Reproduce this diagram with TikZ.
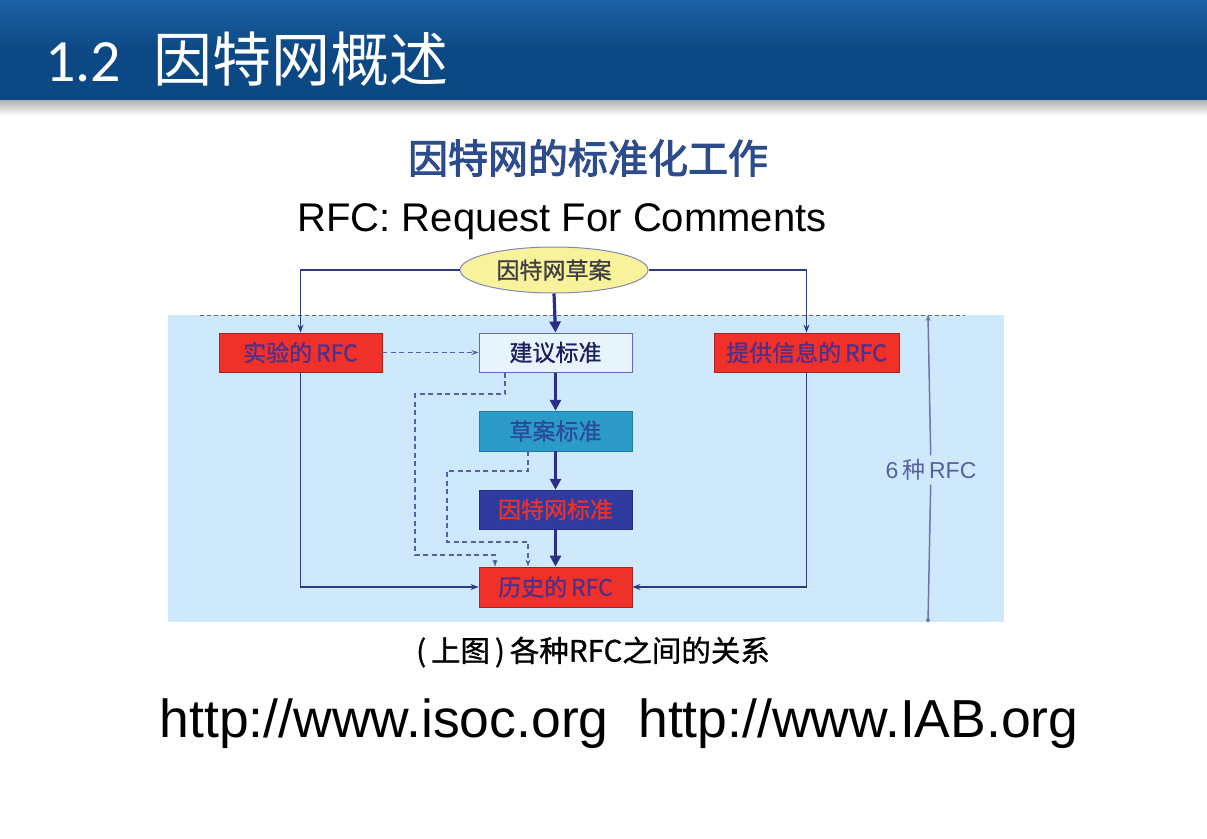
\documentclass[tikz,border=0pt]{standalone}
\usepackage{fontspec}
\setmainfont{Liberation Sans}
\newfontfamily\cjk{Noto Sans CJK SC}[AutoFakeBold=2.5]
\newfontfamily\cjkmed{Noto Sans CJK SC}[AutoFakeBold=1]
\newfontfamily\cjkplain{Noto Sans CJK SC}
\newfontfamily\titlefont{Carlito}
\usetikzlibrary{shapes.geometric,arrows.meta}
\definecolor{headblue}{HTML}{0C4884}
\definecolor{headtop}{HTML}{1E62A6}
\definecolor{subblue}{HTML}{2D4C8C}
\definecolor{paneblue}{HTML}{CDE9FB}
\definecolor{rfcred}{HTML}{EF3129}
\definecolor{boxtext}{HTML}{4F2F8C}
\definecolor{navy}{HTML}{2A2E86}
\definecolor{thinline}{HTML}{2E3A84}
\definecolor{teal}{HTML}{2B9BCA}
\definecolor{tealtext}{HTML}{2C4A9A}
\definecolor{stdblue}{HTML}{2F3B9E}
\definecolor{palebox}{HTML}{E7F4FC}
\definecolor{eyellow}{HTML}{F8F29C}
\tikzset{
  rfcbox/.style={rectangle, minimum width=#1, minimum height=39pt, inner sep=0pt,
    font=\cjkmed\bfseries\fontsize{23}{25}\selectfont, text=boxtext},
  redbox/.style={rfcbox=#1, fill=rfcred, draw=rfcred!70!black, line width=0.8pt},
  flow/.style={draw=navy, line width=3.2pt, -{Triangle[length=11pt,width=11pt]}},
  link/.style={draw=thinline, line width=1.8pt, -{Stealth[length=8pt,width=6pt]}},
  feed/.style={draw=thinline!80, line width=1.2pt, dash pattern=on 5pt off 3.5pt,
    -{Stealth[length=7pt,width=5pt]}},
}
\begin{document}
\begin{tikzpicture}[x=1pt,y=-1pt]
\useasboundingbox (0,0) rectangle (1207,838);
% slide header band and its shadow
\shade[top color=headtop, bottom color=headblue, middle color=headblue] (0,0) rectangle (1207,100);
\shade[top color=black!30, bottom color=white] (0,100) rectangle (1207,116);
\node[anchor=base west, text=white, inner sep=0pt] (title) at (45,81)
  {{\titlefont\fontsize{60}{64}\selectfont 1.2}\hspace{32pt}{\cjkplain\fontsize{59}{62}\selectfont 因特网概述}};
% headings
\node[text=subblue, font=\cjk\fontsize{40}{44}\selectfont, inner sep=0pt] (sub) at (588,158) {\textbf{因特网的标准化工作}};
\node[anchor=base, inner sep=0pt, font=\fontsize{40}{44}\selectfont] (rfc) at (562,231) {RFC: Request For Comments};
% pane behind the RFC family
\fill[paneblue] (168,315) rectangle (1004,622);
\draw[black!60, line width=1pt, dash pattern=on 4pt off 3pt] (200,315) -- (965,315);
% nodes
\node[ellipse, minimum width=188pt, minimum height=46pt, inner sep=0pt, fill=eyellow,
  draw=thinline!60, line width=1pt, font=\cjkmed\bfseries\fontsize{23}{25}\selectfont, text=black!75] (ell) at (554,270) {因特网草案};
\node[redbox=163pt] (exp) at (300.5,352.5) {实验的\,RFC};
\node[rfcbox=153pt, fill=palebox, draw=black!40!blue!60, line width=1pt, text=navy!70!black] (prop) at (555.5,352.5) {建议标准};
\node[redbox=185pt] (info) at (806.5,352.5) {提供信息的\,RFC};
\node[rfcbox=153pt, minimum height=40pt, fill=teal, draw=teal!80!black, text=tealtext] (draft) at (555.5,431) {草案标准};
\node[rfcbox=153pt, fill=stdblue, draw=stdblue!80!black, text=rfcred] (std) at (555.5,509.5) {因特网标准};
\node[redbox=153pt, minimum height=40pt] (hist) at (555.5,587) {历史的\,RFC};
% main standards track
\draw[flow] (ell.south) -- (prop.north);
\draw[flow] (prop.south) -- (draft.north);
\draw[flow] (draft.south) -- (std.north);
\draw[flow] (std.south) -- (hist.north);
% side branches
\draw[link] (ell.west) -| (exp.north);
\draw[link] (ell.east) -| (info.north);
\draw[link] (exp.south) |- (hist.west);
\draw[link] (info.south) |- (hist.east);
% dashed transitions
\draw[feed] (exp.east) -- (prop.west);
\draw[feed] ([xshift=-50.5pt]prop.south) -- (505,394) -- (415,394) -- (415,555) -- (495,555) -- ([xshift=-60.5pt]hist.north);
\draw[feed] ([xshift=-27.5pt]draft.south) -- (528,471) -- (447,471) -- (447,542) -- (528,542) -- ([xshift=-27.5pt]hist.north);
% span of the six kinds of RFC
\coordinate (vt) at (928,315);
\coordinate (vb) at (928,622);
\node[fill=paneblue, inner sep=4pt, text=thinline!80, font=\fontsize{23}{25}\selectfont] (six) at (931,470) {6\,{\cjkplain 种}\,RFC};
\draw[draw=thinline!70, line width=1.5pt, -{Stealth[length=6pt,width=5pt]}] (six) -- (vt);
\draw[draw=thinline!70, line width=1.5pt, -{Circle[length=4pt]}] (six) -- (vb);
% captions
\node[font=\cjkmed\bfseries\fontsize{29.5}{32}\selectfont, inner sep=0pt] (cap) at (593,652) {(\,上图\,)\,各种RFC之间的关系};
\node[anchor=base, inner sep=0pt, font=\fontsize{53.5}{58}\selectfont] (url) at (619,737) {http://www.isoc.org\ \ http://www.IAB.org};
\end{tikzpicture}
\end{document}
